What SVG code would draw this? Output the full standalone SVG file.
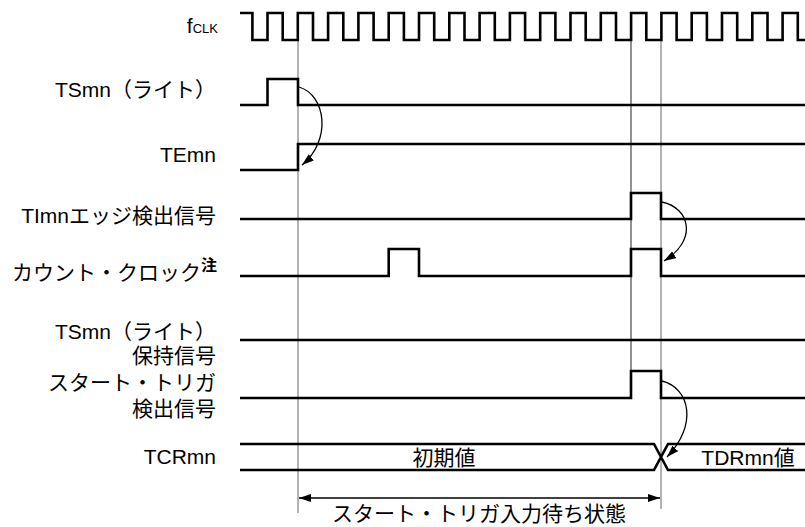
<svg xmlns="http://www.w3.org/2000/svg" width="805" height="527" viewBox="0 0 805 527">
<style>
text{font-family:"Liberation Sans","Noto Sans CJK JP",sans-serif;font-size:21px;fill:#000}
.lbl{text-anchor:end}
.mid{text-anchor:middle}
.sig{fill:none;stroke:#000;stroke-width:2.6;stroke-linejoin:miter;stroke-linecap:butt}
.vg{stroke:#808080;stroke-width:1.2;fill:none}
.vb{stroke:#222;stroke-width:1;fill:none}
.arc{fill:none;stroke:#000;stroke-width:1.3}
</style>
<defs>
<marker id="ah" viewBox="0 0 12 8" refX="12" refY="4" markerWidth="12" markerHeight="8" markerUnits="userSpaceOnUse" orient="auto-start-reverse">
<path d="M0,0 L12,4 L0,8 z" fill="#000"/>
</marker>
</defs>
<rect width="805" height="527" fill="#fff"/>
<g id="guides">
<path class="vg" d="M298,40 V513"/>
<path class="vb" d="M631,40 V371"/>
<path class="vg" d="M661,40 V509"/>
</g>
<g id="fclk">
<text class="lbl" x="218" y="33" font-size="20">f<tspan font-size="13">CLK</tspan></text>
<path class="sig" d="M240,13 H252.4 V40 H267.5 V13 H282.7 V40 H297.8 V13 H313 V40 H328.1 V13 H343.3 V40 H358.4 V13 H373.6 V40 H388.7 V13 H403.9 V40 H419 V13 H434.2 V40 H449.3 V13 H464.5 V40 H479.6 V13 H494.8 V40 H509.9 V13 H525.1 V40 H540.2 V13 H555.4 V40 H570.5 V13 H585.7 V40 H600.8 V13 H616 V40 H631.1 V13 H646.3 V40 H661.4 V13 H676.6 V40 H691.7 V13 H706.9 V40 H722 V13 H737.2 V40 H752.3 V13 H767.5 V40 H782.6 V13 H797.8 V40 H805"/>
</g>
<g id="tsmn">
<text class="lbl" x="216" y="97">TSmn（ライト）</text>
<path class="sig" d="M240,105 H267.5 V79 H298 V105 H805"/>
</g>
<g id="temn">
<text class="lbl" x="216" y="162">TEmn</text>
<path class="sig" d="M240,170 H298 V144 H805"/>
</g>
<g id="timn">
<text class="lbl" x="216" y="223">TImnエッジ検出信号</text>
<path class="sig" d="M240,219 H631 V193 H661 V219 H805"/>
</g>
<g id="countclk">
<text class="lbl" x="217" y="280">カウント・クロック<tspan font-size="16" font-weight="bold" dy="-9">注</tspan></text>
<path class="sig" d="M240,276 H388.7 V249 H419 V276 H631 V249 H661 V276 H805"/>
</g>
<g id="hold">
<text class="lbl" x="216" y="339">TSmn（ライト）</text>
<text class="lbl" x="216" y="363">保持信号</text>
<path class="sig" d="M240,340 H805"/>
</g>
<g id="starttrig">
<text class="lbl" x="216" y="390">スタート・トリガ</text>
<text class="lbl" x="216" y="416">検出信号</text>
<path class="sig" d="M240,398 H631 V371 H661 V398 H805"/>
</g>
<g id="tcrmn">
<text class="lbl" x="216" y="464">TCRmn</text>
<path class="sig" d="M240,444 H654 L668,470 H805 M240,470 H654 L668,444 H805"/>
<text class="mid" x="444" y="465">初期値</text>
<text class="mid" x="748" y="465">TDRmn値</text>
</g>
<g id="connectors">
<path class="arc" marker-end="url(#ah)" d="M299,87 C326,95 332,140 302,165"/>
<path class="arc" marker-end="url(#ah)" d="M662,202 C690,208 698,240 664,261"/>
<path class="arc" marker-end="url(#ah)" d="M662,381 C690,388 698,425 667,457"/>
<path class="arc" marker-start="url(#ah)" marker-end="url(#ah)" d="M299,498 H660"/>
</g>
<g id="waitlabel">
<text class="mid" x="479" y="521">スタート・トリガ入力待ち状態</text>
</g>
</svg>
